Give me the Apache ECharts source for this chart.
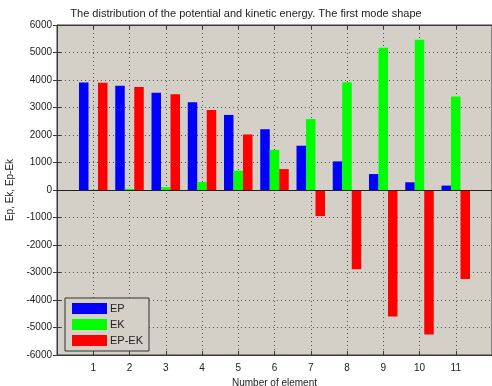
<!DOCTYPE html>
<html><head><meta charset="utf-8">
<script src="https://cdn.jsdelivr.net/npm/echarts@6/dist/echarts.min.js"></script>
<style>html,body{margin:0;padding:0;background:#fff}#c{width:492px;height:386px}</style>
</head><body><div id="c"></div>
<script>
var elements = [1,2,3,4,5,6,7,8,9,10,11];
var EP   = [3910, 3790, 3540, 3190, 2730, 2210, 1610, 1040, 580, 280, 160];
var EK   = [10, 40, 100, 290, 700, 1460, 2580, 3920, 5170, 5460, 3400];
var EPEK = [3900, 3750, 3480, 2910, 2020, 760, -950, -2880, -4600, -5250, -3240];
var yTicks = {min:-6000, max:6000, step:1000};

function pairs(v){ return elements.map(function(x,i){ return [x, v[i]]; }); }
var font = 'Liberation Sans, Arial, sans-serif';
var axisCol = '#3a3a3a';
var chart = echarts.init(document.getElementById('c'), null, {renderer:'canvas'});
var xCommon = {
  type:'value', min:0, max:12, interval:1,
  axisLine:{show:true, onZero:false, lineStyle:{color:axisCol, width:1}},
  axisTick:{show:true, inside:true, length:4, lineStyle:{color:axisCol}},
  splitLine:{show:false}
};
chart.setOption({
  animation:false,
  backgroundColor:'#ffffff',
  title:{text:'The distribution of the potential and kinetic energy. The first mode shape',
    left:'center', top:3, textStyle:{fontFamily:font, fontSize:11, fontWeight:'normal', color:'#222'}},
  grid:{left:57, right:0, top:25, bottom:31, show:true, backgroundColor:'#d4d0c8', borderColor:axisCol, borderWidth:1,
    containLabel:false, outerBoundsMode:'none'},
  legend:{
    orient:'vertical', left:65, top:298, itemWidth:35, itemHeight:11, itemGap:5,
    icon:'rect', padding:[5,6,5,7], backgroundColor:'#d4d0c8', borderColor:'#333', borderWidth:1,
    textStyle:{fontFamily:font, fontSize:11, color:'#222', padding:[0,0,0,-2]},
    data:['EP','EK','EP-EK']
  },
  xAxis:[
    Object.assign({}, xCommon, {position:'bottom',
      name:'Number of element', nameLocation:'middle', nameGap:20,
      nameTextStyle:{fontFamily:font, fontSize:10, color:'#222'},
      axisLabel:{fontFamily:font, fontSize:10, color:'#222', margin:8,
        formatter:function(v){ return (v>=1 && v<=11) ? String(v) : ''; }},
      splitLine:{show:true, lineStyle:{color:'#555', type:[1,3], width:1}}
    }),
    Object.assign({}, xCommon, {position:'top', axisLabel:{show:false}})
  ],
  yAxis:[{
    type:'value', min:yTicks.min, max:yTicks.max, interval:yTicks.step,
    name:'Ep, Ek, Ep-Ek', nameLocation:'middle', nameGap:38, nameRotate:90,
    nameTextStyle:{fontFamily:font, fontSize:10, color:'#222'},
    axisLine:{show:true, lineStyle:{color:axisCol}},
    axisTick:{show:true, inside:true, length:4, lineStyle:{color:axisCol}},
    axisLabel:{fontFamily:font, fontSize:10, color:'#222', margin:5,
      formatter:function(v){ return String(v); }},
    splitLine:{show:true, lineStyle:{color:'#555', type:[1,3], width:1}}
  },{
    type:'value', min:yTicks.min, max:yTicks.max, interval:yTicks.step, position:'right',
    axisLine:{show:false}, axisTick:{show:true, inside:true, length:4, lineStyle:{color:axisCol}},
    axisLabel:{show:false}, splitLine:{show:false}
  }],
  series:[
    {name:'EP', type:'bar', data:pairs(EP), barWidth:9.5, barGap:'0%', itemStyle:{color:'#0000ff'},
     markLine:{silent:true, symbol:'none', label:{show:false}, lineStyle:{color:'#222', type:'solid', width:1}, data:[{yAxis:0}]}},
    {name:'EK', type:'bar', data:pairs(EK), barWidth:9.5, barGap:'0%', itemStyle:{color:'#00ff00'}},
    {name:'EP-EK', type:'bar', data:pairs(EPEK), barWidth:9.5, barGap:'0%', itemStyle:{color:'#ff0000'}}
  ]
});
</script>
</body></html>
